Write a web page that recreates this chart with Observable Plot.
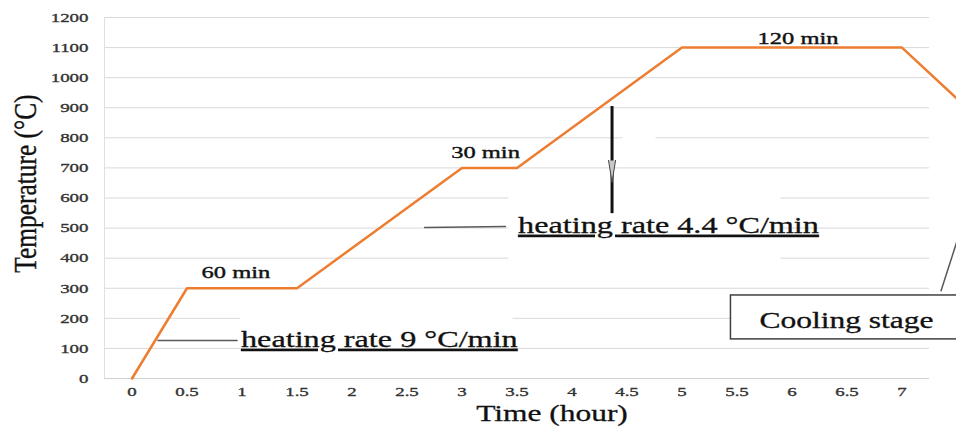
<!DOCTYPE html>
<html><head><meta charset="utf-8">
<script src="https://cdn.jsdelivr.net/npm/d3@7"></script>
<script src="https://cdn.jsdelivr.net/npm/@observablehq/plot@0.6"></script>
<style>
body{margin:0;background:#fff;overflow:hidden}
#chart svg{display:block;overflow:visible;background:#fff}
.ul text{text-decoration:underline;}
</style></head><body><div id="chart"></div>
<script>
// Series: furnace programme (time in hours, temperature in °C)
const timeHours    = [0, 0.5, 1.5, 3, 3.5, 5, 7, 7.5];
const temperatureC = [0, 300, 300, 700, 700, 1100, 1100, 930];

// Axis ticks
const xTicks = [0, 0.5, 1, 1.5, 2, 2.5, 3, 3.5, 4, 4.5, 5, 5.5, 6, 6.5, 7];
const xTickLabels = ["0","0.5","1","1.5","2","2.5","3","3.5","4","4.5","5","5.5","6","6.5","7"];
const yTicks = [0, 100, 200, 300, 400, 500, 600, 700, 800, 900, 1000, 1100, 1200];

// Annotations (data coordinates)
const holdLabels = ["60 min", "30 min", "120 min"];
const holdLabelT = [0.945, 3.214, 6.055];
const holdLabelC = [352, 751, 1130];

const rateLabels = ["heating rate 9 °C/min", "heating rate 4.4 °C/min"];
const rateLabelT = [0.991, 3.51];
const rateLabelC = [130, 509];
// white text boxes behind the rate labels (hide gridlines)
const rateBoxT1 = [0.99, 3.427];
const rateBoxT2 = [3.464, 5.9];
const rateBoxC1 = [60, 386];
const rateBoxC2 = [224, 618];
const arrowBoxT = [4.464, 4.764];
const arrowBoxC = [784, 811];

const leader9T = [0.236, 0.955];
const leader9C = [126, 126];
const leader44T = [2.66, 3.395];
const leader44C = [502, 505];
const coolLeaderT = [7.355, 7.6];
const coolLeaderC = [292, 570];

const arrowT = [4.364];
const arrowC1 = [548];
const arrowC2 = [904];
const arrowHeadC = [725];

const coolBoxT = [5.445, 7.8];
const coolBoxC = [130, 276];
const coolLabel = ["Cooling stage"];
const coolLabelT = [6.495];
const coolLabelC = [193];

const xTitle = "Time (hour)";
const xTitleT = 3.818;
const yTitle = "Temperature (°C)";
const yTitleT = -0.964;
const yTitleC = 648;

const series = timeHours.map((t, i) => ({t, c: temperatureC[i]}));

const serif = "'Liberation Serif', 'Times New Roman', serif";
const one = [0];

const plot = Plot.plot({
  width: 956,
  height: 437,
  marginLeft: 104,
  marginRight: 27,
  marginTop: 17,
  marginBottom: 59,
  x: {domain: [-0.25, 7.25], axis: null},
  y: {domain: [0, 1200], axis: null},
  style: {fontFamily: serif, background: "#fff", overflow: "visible"},
  marks: [
    Plot.ruleY(yTicks.filter(d => d > 0), {y: d => d, stroke: "#d9d9d9", strokeWidth: 1}),
    Plot.ruleY([0], {stroke: "#d0d0d0", strokeWidth: 1.2}),
    Plot.ruleX([-0.25], {stroke: "#e0e0e0", strokeWidth: 1}),
    Plot.rect(rateBoxT1, {x1: d => d, x2: (d, i) => rateBoxT2[i], y1: (d, i) => rateBoxC1[i], y2: (d, i) => rateBoxC2[i], fill: "#fff"}),
    Plot.rect(one, {x1: arrowBoxT[0], x2: arrowBoxT[1], y1: arrowBoxC[0], y2: arrowBoxC[1], fill: "#fff"}),
    Plot.text(yTicks, {y: d => d, text: d => String(d), frameAnchor: "left", dx: -16, textAnchor: "end", fontSize: 13.5, fill: "#333", stroke: "#333", strokeWidth: 0.35}),
    Plot.text(xTicks, {x: d => d, text: (d, i) => xTickLabels[i], frameAnchor: "bottom", dy: 17, fontSize: 13.5, fill: "#333", stroke: "#333", strokeWidth: 0.35}),
    Plot.text([xTitle], {x: xTitleT, text: d => d, frameAnchor: "bottom", dy: 42, fontSize: 24, fill: "#111", stroke: "#111", strokeWidth: 0.3, className: "xt"}),
    Plot.text([yTitle], {x: yTitleT, y: yTitleC, text: d => d, rotate: -90, fontSize: 25.4, fill: "#111", stroke: "#111", strokeWidth: 0.3, className: "yt"}),
    Plot.line(series, {x: "t", y: "c", stroke: "#ED7D31", strokeWidth: 2.5}),
    Plot.line(leader9T.map((t, i) => ({t, c: leader9C[i]})), {x: "t", y: "c", stroke: "#595959", strokeWidth: 1.5}),
    Plot.line(leader44T.map((t, i) => ({t, c: leader44C[i]})), {x: "t", y: "c", stroke: "#595959", strokeWidth: 1.5}),
    Plot.line(coolLeaderT.map((t, i) => ({t, c: coolLeaderC[i]})), {x: "t", y: "c", stroke: "#595959", strokeWidth: 1.5}),
    Plot.ruleX(arrowT, {x: d => d, y1: (d, i) => arrowC1[i], y2: (d, i) => arrowC2[i], stroke: "#111", strokeWidth: 3}),
    Plot.vector(arrowT, {x: d => d, y: (d, i) => arrowHeadC[i], shape: "spike", anchor: "start", length: 22, r: 3.5, rotate: 180, fill: "#c8c8c8", stroke: "#444", strokeWidth: 1}),
    Plot.rect(one, {x1: coolBoxT[0], x2: coolBoxT[1], y1: coolBoxC[0], y2: coolBoxC[1], fill: "#fff", stroke: "#404040", strokeWidth: 1.5}),
    Plot.text(holdLabels, {x: (d, i) => holdLabelT[i], y: (d, i) => holdLabelC[i], text: d => d, fontSize: 17.5, fill: "#111", stroke: "#111", strokeWidth: 0.4}),
    Plot.text(rateLabels, {x: (d, i) => rateLabelT[i], y: (d, i) => rateLabelC[i], text: d => d, textAnchor: "start", fontSize: 23, fill: "#111", stroke: "#111", strokeWidth: 0.3, className: "ul"}),
    Plot.text(coolLabel, {x: (d, i) => coolLabelT[i], y: (d, i) => coolLabelC[i], text: d => d, fontSize: 22.5, fill: "#111", stroke: "#111", strokeWidth: 0.3})
  ]
});

document.getElementById("chart").append(plot);

// Reproduce the horizontally widened lettering of the reference
plot.querySelectorAll("text").forEach(t => {
  const tr = t.getAttribute("transform") || "";
  if (tr.includes("rotate")) {
    t.setAttribute("transform", tr + " scale(1,1.27)");
    return;
  }
  const k = t.closest(".xt") ? 1.31 : 1.4;
  const L = t.getComputedTextLength();
  if (L > 0) {
    t.setAttribute("textLength", (L * k).toFixed(2));
    t.setAttribute("lengthAdjust", "spacingAndGlyphs");
  }
});
</script></body></html>
